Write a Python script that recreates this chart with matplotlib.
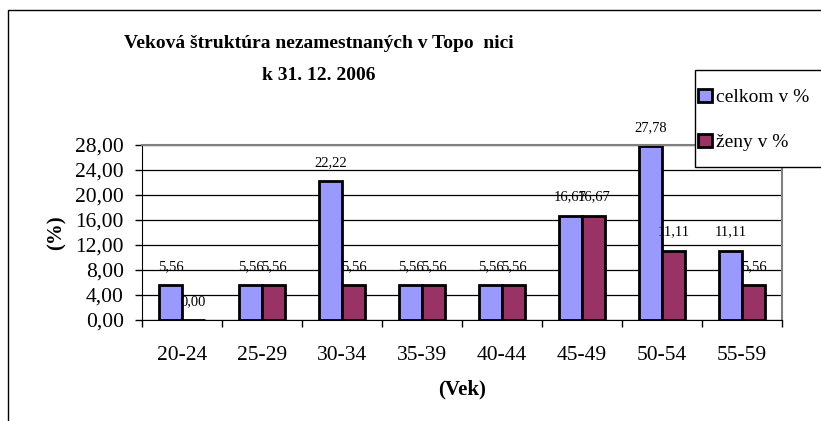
import numpy as np
import matplotlib.pyplot as plt
from matplotlib.patches import Rectangle

plt.rcParams['font.family'] = ['Liberation Serif', 'DejaVu Serif']

# data
vek = ["20-24", "25-29", "30-34", "35-39", "40-44", "45-49", "50-54", "55-59"]
celkom = [5.56, 5.56, 22.22, 5.56, 5.56, 16.67, 27.78, 11.11]
zeny = [0.00, 5.56, 5.56, 5.56, 5.56, 16.67, 11.11, 5.56]
y_ticks = [0, 4, 8, 12, 16, 20, 24, 28]

W, H = 821, 421
fig = plt.figure(figsize=(W / 100, H / 100), dpi=100)
ax = fig.add_axes([142 / W, 1 - 320 / H, (782 - 142) / W, (320 - 145) / H])

x = np.arange(len(vek))
w = 0.29
b1 = ax.bar(x - w / 2, celkom, w, color="#9999FF", edgecolor="black", linewidth=2, label="celkom v %")
b2 = ax.bar(x + w / 2, zeny, w, color="#993366", edgecolor="black", linewidth=2, label="ženy v %")

def fmt(v):
    return f"{v:.2f}".replace(".", ",")

for bars, vals in ((b1, celkom), (b2, zeny)):
    for r, v in zip(bars, vals):
        ax.annotate(fmt(v), (r.get_x() + r.get_width() / 2, v), xytext=(0, 11),
                    textcoords="offset points", ha="center", va="baseline", fontsize=10.5)

ax.set_xlim(-0.5, len(vek) - 0.5)
ax.set_ylim(0, 28)
ax.set_yticks(y_ticks)
ax.set_yticklabels([fmt(v) for v in y_ticks], fontsize=15.5)
ax.tick_params(axis="y", length=5, width=1, pad=8)

# ticks on category borders, labels at centres
ax.set_xticks(np.arange(len(vek) + 1) - 0.5)
ax.set_xticklabels([])
ax.tick_params(axis="x", which="major", length=5, width=1)
ax.set_xticks(x, minor=True)
ax.set_xticklabels(vek, minor=True, fontsize=15.5)
ax.tick_params(axis="x", which="minor", length=0, pad=19)

ax.yaxis.grid(True, color="black", linewidth=0.9)
ax.set_axisbelow(True)
ax.spines["top"].set_color("#808080")
ax.spines["right"].set_color("#808080")
ax.spines["top"].set_linewidth(1.5)
ax.spines["right"].set_linewidth(1.5)

ax.set_ylabel("(%)", fontsize=15, fontweight="bold", labelpad=6)
ax.set_xlabel("(Vek)", fontsize=15, fontweight="bold", labelpad=10)

fig.text(319 / W, 1 - 43 / H, "Veková štruktúra nezamestnaných v Topo  nici",
         ha="center", va="center", fontsize=14, fontweight="bold")
fig.text(319 / W, 1 - 76 / H, "k 31. 12. 2006",
         ha="center", va="center", fontsize=14, fontweight="bold")

# outer chart frame (right and bottom edges fall outside the picture)
fig.patches.append(Rectangle((8 / W, -0.2), 1.2, 1.2 - 10 / H, transform=fig.transFigure,
                             fill=False, edgecolor="black", linewidth=1))
# legend frame
fig.patches.append(Rectangle((695 / W, 1 - 167 / H), 0.2, 97 / H, transform=fig.transFigure,
                             facecolor="white", edgecolor="black", linewidth=1, zorder=3))
fig.legend(handles=[b1, b2], loc="center left", bbox_to_anchor=(698 / W, 1 - 120 / H),
           frameon=False, fontsize=14, handlelength=0.7, handleheight=0.7,
           handletextpad=0.2, labelspacing=1.4, borderpad=0, borderaxespad=0)

fig.savefig("out.png", dpi=100)
